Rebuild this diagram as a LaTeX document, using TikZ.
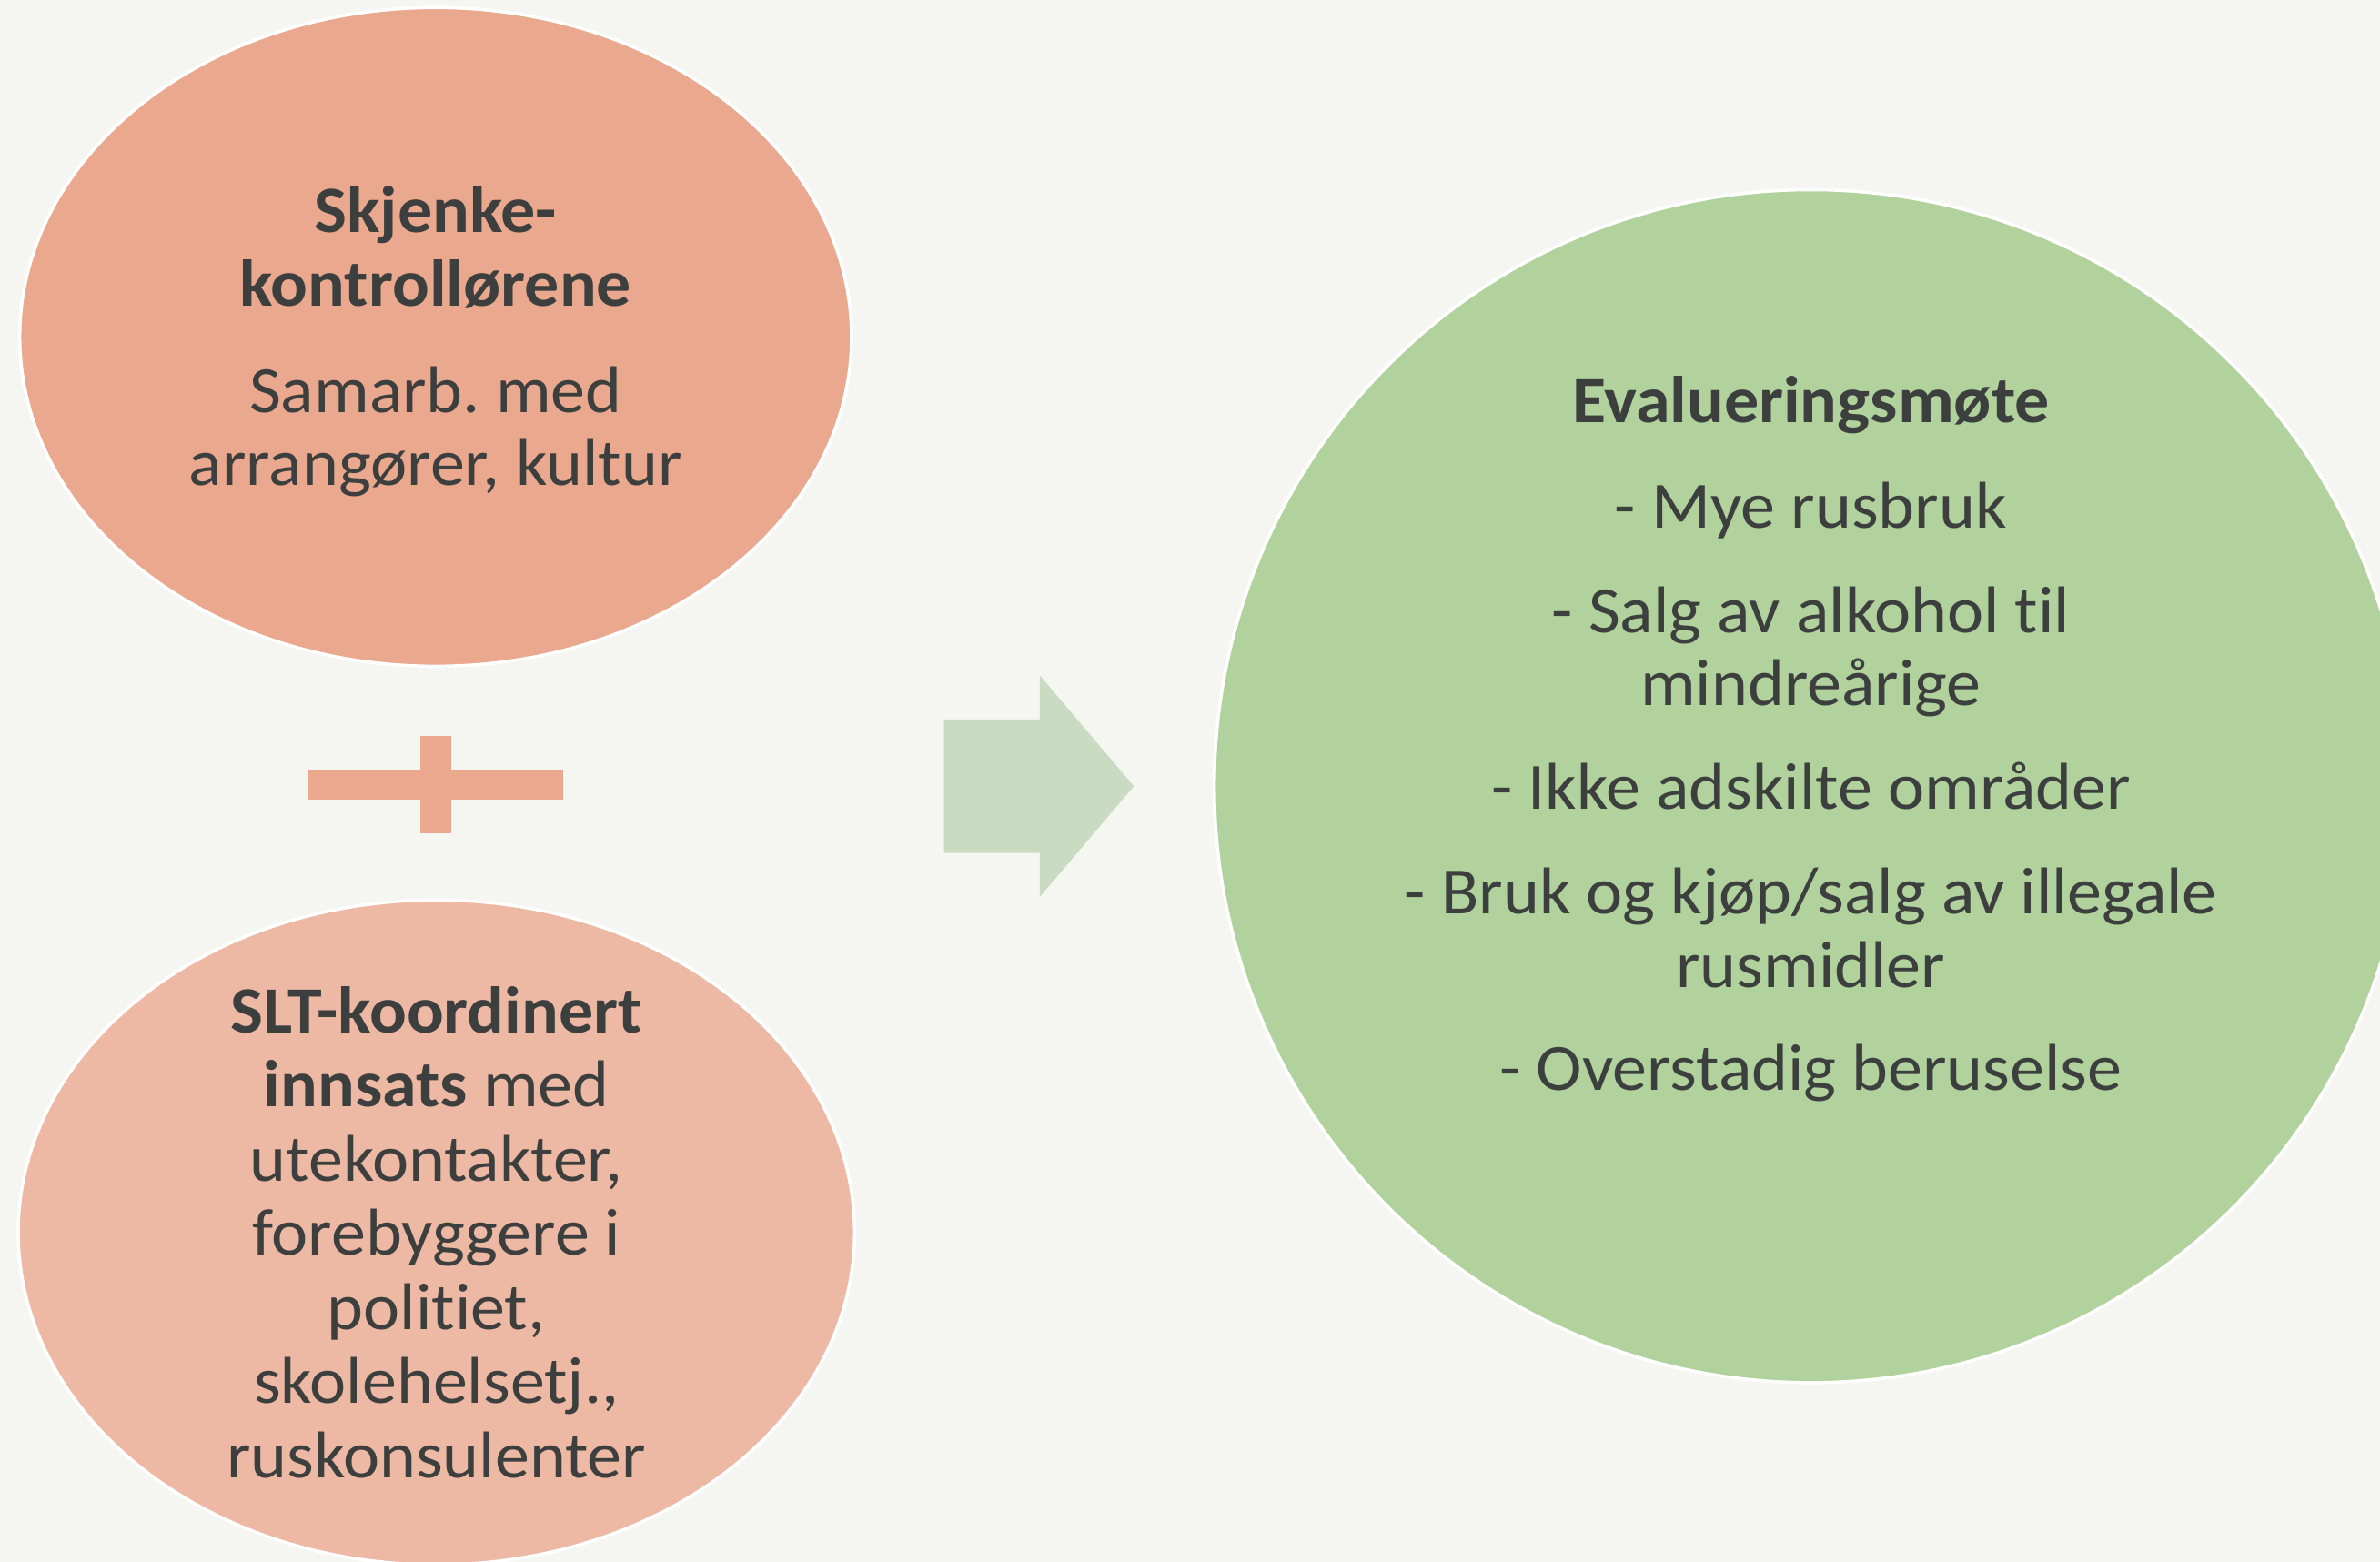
\documentclass[tikz,border=0pt]{standalone}
\usepackage{fontspec}
\setmainfont{Carlito}[Ligatures=NoCommon, FakeStretch=1.045]
\usetikzlibrary{shapes.geometric}

\definecolor{bakgrunn}{RGB}{245,246,242}
\definecolor{laks}{RGB}{234,168,142}
\definecolor{lakslys}{RGB}{238,185,164}
\definecolor{groenn}{RGB}{177,210,157}
\definecolor{pilfarge}{RGB}{201,220,194}
\definecolor{tekstfarge}{RGB}{60,63,62}

\begin{document}
\frenchspacing
\begin{tikzpicture}[
  boble/.style={ellipse, draw=white, line width=0.6pt, inner sep=0pt},
  tekst/.style={align=center, text=tekstfarge, inner sep=0pt,
    font=\fontsize{12.4}{13.7}\selectfont}
]
\clip (0,0) rectangle (15.68,10.29);
\fill[bakgrunn] (0,0) rectangle (15.68,10.29);

\node[boble, fill=laks, minimum width=5.48cm, minimum height=4.34cm] (skjenke) at (2.87,8.07) {};
\node[tekst] (skjenketekst) at ([yshift=-0.03cm]skjenke.center)
  {\textbf{Skjenke-}\\\textbf{kontrollørene}\\[0.22cm]Samarb. med\\arrangører, kultur};

% pluss
\fill[laks] (2.03,5.02) rectangle (3.71,5.22);
\fill[laks] (2.77,4.80) rectangle (2.97,5.44);

\node[boble, fill=lakslys, minimum width=5.51cm, minimum height=4.38cm] (slt) at (2.875,2.17) {};
\node[tekst, font=\fontsize{12.4}{13.9}\selectfont] (slttekst) at (slt.center)
  {\textbf{SLT-koordinert}\\\textbf{innsats} med\\utekontakter,\\forebyggere i\\politiet,\\skolehelsetj.,\\ruskonsulenter};

% pil
\fill[pilfarge] (6.22,4.67) -- (6.85,4.67) -- (6.85,4.38) -- (7.47,5.11)
  -- (6.85,5.84) -- (6.85,5.55) -- (6.22,5.55) -- cycle;

\node[boble, circle, fill=groenn, minimum size=7.86cm] (moete) at (11.93,5.11) {};
\node[tekst] (moetetekst) at ([yshift=0.31cm]moete.center)
  {\textbf{Evalueringsmøte}\\[0.21cm]
   - Mye rusbruk\\[0.21cm]
   - Salg av alkohol til\\mindreårige\\[0.2cm]
   - Ikke adskilte områder\\[0.21cm]
   - Bruk og kjøp/salg av illegale\\rusmidler\\[0.2cm]
   - Overstadig beruselse};
\end{tikzpicture}
\end{document}
